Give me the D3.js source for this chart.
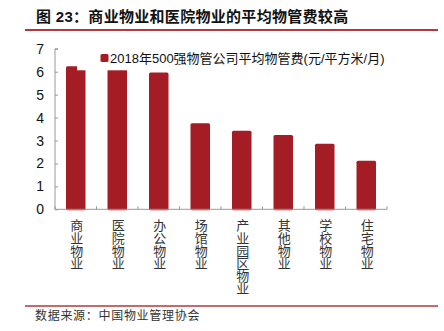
<!DOCTYPE html>
<html><head><meta charset="utf-8">
<script src="https://cdn.jsdelivr.net/npm/d3@7"></script>
<style>
html,body{margin:0;padding:0;background:#fff;}
svg{display:block;font-family:"Liberation Sans","Noto Sans CJK SC",sans-serif;}
</style></head>
<body>
<script>
const categories = ["商业物业","医院物业","办公物业","场馆物业","产业园区物业","其他物业","学校物业","住宅物业"];
const values = [6.24, 6.15, 5.97, 3.75, 3.43, 3.24, 2.86, 2.12];
const yTicks = [0,1,2,3,4,5,6,7];
const seriesName = "2018年500强物管公司平均物管费(元/平方米/月)";
const title = "图 23：商业物业和医院物业的平均物管费较高";
const source = "数据来源：中国物业管理协会";

const W = 444, H = 331;
const red = "#a51d24";
const svg = d3.select("body").append("svg").attr("width", W).attr("height", H);

// title
svg.append("text").attr("x", 36).attr("y", 22).attr("font-size", 15).attr("font-weight", "bold")
  .attr("letter-spacing", 0.3).attr("fill", "#111").text(title);
svg.append("line").attr("x1", 25).attr("x2", 438).attr("y1", 30).attr("y2", 30)
  .attr("stroke", "#b23a3e").attr("stroke-width", 2);

const x = d3.scaleBand().domain(categories).range([55, 387]).paddingInner(0.53).paddingOuter(0.265);
const y = d3.scaleLinear().domain([0, 7]).range([209.3, 48.8]);

// bars
svg.append("g").selectAll("rect").data(values).join("rect")
  .attr("x", (d, i) => x(categories[i]))
  .attr("width", x.bandwidth())
  .attr("y", d => y(d))
  .attr("height", d => y(0) - y(d) + 1)
  .attr("rx", 1.5)
  .attr("fill", red);

// legend with white background covering
const lg = svg.append("g");
lg.append("rect").attr("x", 77).attr("y", 45).attr("width", 312).attr("height", 25.3).attr("fill", "#fff");
lg.append("rect").attr("x", 100.5).attr("y", 54).attr("width", 8).attr("height", 8).attr("rx", 1.5).attr("fill", red);
lg.append("text").attr("x", 110).attr("y", 62.5).attr("font-size", 13).attr("fill", "#111").text(seriesName);

// y axis
const yAxis = svg.append("g").attr("transform", "translate(55,0)")
  .call(d3.axisRight(y).tickValues(yTicks).tickSize(3).tickFormat(""));
yAxis.select(".domain").attr("stroke", "#999").attr("d", `M3,${y(7)}H0V${y(0)}`);
yAxis.selectAll(".tick line").attr("stroke", "#999");
svg.append("g").selectAll("text").data(yTicks).join("text")
  .attr("x", 44).attr("y", d => y(d) + 5).attr("text-anchor", "end")
  .attr("font-size", 14).attr("fill", "#111").text(d => d);

// x axis
const xg = svg.append("g");
xg.append("line").attr("x1", 55).attr("x2", 387).attr("y1", y(0)).attr("y2", y(0)).attr("stroke", "#999");
const edges = categories.map((c, i) => 55 + i * x.step()).concat([387]);
xg.selectAll("line.t").data(edges).join("line").attr("class", "t")
  .attr("x1", d => d).attr("x2", d => d).attr("y1", y(0)).attr("y2", y(0) - 3).attr("stroke", "#999");

// x labels vertical
svg.append("g").selectAll("text").data(categories).join("text")
  .attr("x", c => x(c) + x.bandwidth() / 2)
  .attr("y", 219)
  .attr("writing-mode", "vertical-rl")
  .attr("font-size", 13).attr("letter-spacing", -0.4)
  .attr("fill", "#333")
  .text(c => c);

// bottom line and source
svg.append("line").attr("x1", 25).attr("x2", 438).attr("y1", 306).attr("y2", 306)
  .attr("stroke", "#b23a3e").attr("stroke-width", 1.5);
svg.append("text").attr("x", 35).attr("y", 320).attr("font-size", 12).attr("letter-spacing", 0.7)
  .attr("fill", "#333").text(source);
</script>
</body></html>
